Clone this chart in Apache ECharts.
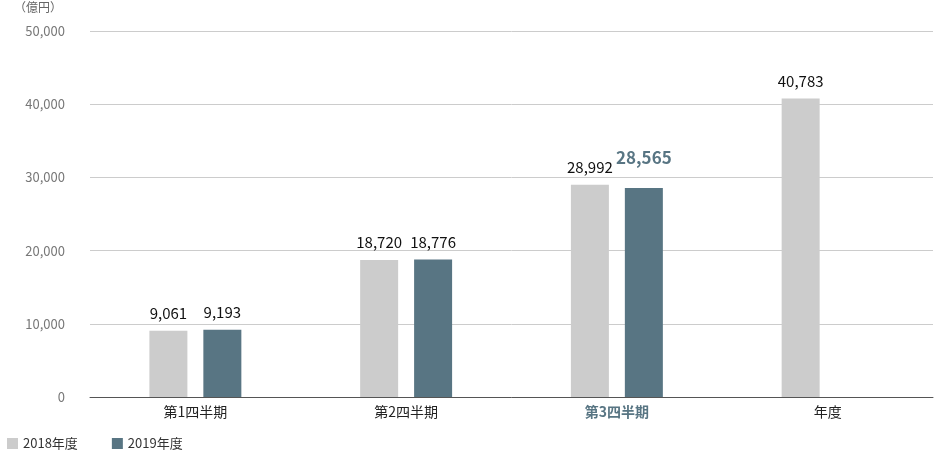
<!DOCTYPE html>
<html><head><meta charset="utf-8">
<script src="https://cdn.jsdelivr.net/npm/echarts@6/dist/echarts.min.js"></script>
<style>html,body{margin:0;padding:0;background:#fff}#c{width:936px;height:456px}</style>
</head><body><div id="c"></div>
<script>
const categories = ['第1四半期','第2四半期','第3四半期','年度'];
const s2018 = [9061, 18720, 28992, 40783];
const s2019 = [9193, 18776, 28565, null];
const yTicks = [0, 10000, 20000, 30000, 40000, 50000];
const F = '"Noto Sans CJK JP","Noto Sans",sans-serif';
const hl = '#587583';
const chart = echarts.init(document.getElementById('c'));
chart.setOption({
  animation:false,
  textStyle:{fontFamily:F},
  grid:{left:90,right:3,top:31,bottom:59},
  legend:{left:2,bottom:1,itemWidth:11,itemHeight:11,itemGap:34,icon:'rect',
    textStyle:{fontSize:13,color:'#333',fontFamily:F},data:['2018年度','2019年度']},
  graphic:[{type:'text',left:14,top:1,style:{text:'（億円）',font:'12px '+F,fill:'#666'}}],
  xAxis:{type:'category',data:categories,
    axisLine:{lineStyle:{color:'#555'}},axisTick:{show:false},
    axisLabel:{fontSize:14,color:'#222',margin:8,
      formatter:(v,i)=> i===2?'{h|'+v+'}':v,
      rich:{h:{fontSize:14,fontWeight:'bold',color:hl,fontFamily:F}}}},
  yAxis:{type:'value',min:0,max:50000,interval:10000,
    axisLine:{show:false},axisTick:{show:false},
    splitLine:{lineStyle:{color:'#ccc'}},
    axisLabel:{margin:25,color:'#777',fontSize:13,formatter:v=>yTicks.includes(v)?v.toLocaleString('en-US'):''}},
  series:[
    {name:'2018年度',type:'bar',data:s2018,barWidth:38,barGap:'42%',itemStyle:{color:'#cccccc'},
     label:{show:true,position:'top',distance:10,color:'#111',fontSize:15,formatter:p=>p.value.toLocaleString('en-US')}},
    {name:'2019年度',type:'bar',data:s2019,barWidth:38,itemStyle:{color:hl},
     label:{show:true,position:'top',distance:10,color:'#111',fontSize:15,
       formatter:p=>p.dataIndex===2?'{h|'+p.value.toLocaleString('en-US')+'}':p.value.toLocaleString('en-US'),
       rich:{h:{fontSize:17,fontWeight:'bold',color:hl,fontFamily:F,padding:[0,0,12,0]}}}}
  ]
});
</script></body></html>
